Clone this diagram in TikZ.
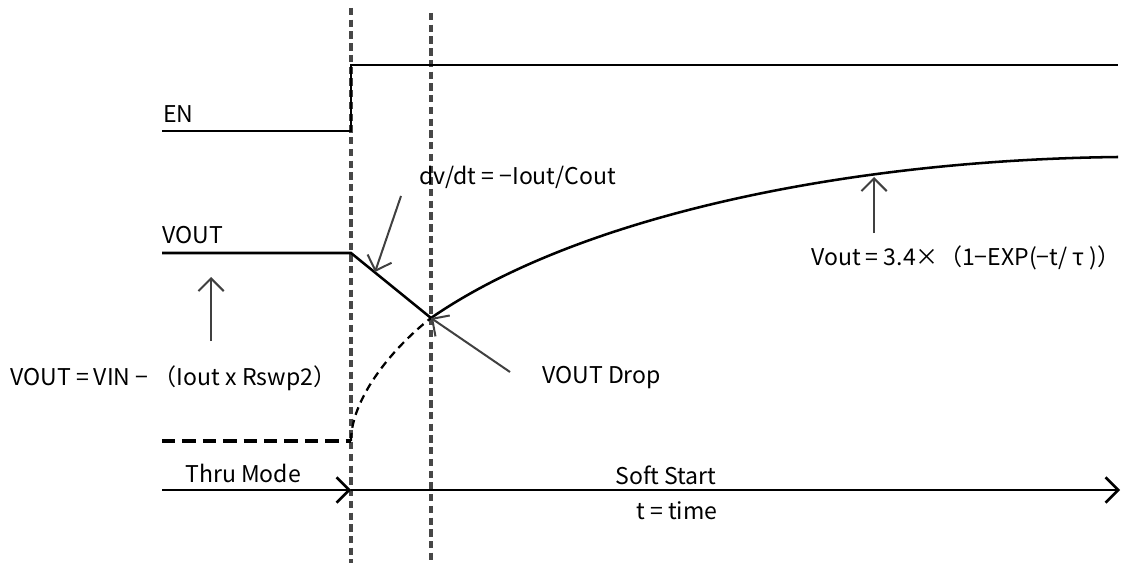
\documentclass[tikz,border=0pt]{standalone}
\usepackage{fontspec}
\setmainfont{Noto Sans CJK JP}
\usetikzlibrary{arrows.meta}

\begin{document}
\begin{tikzpicture}[x=0.75pt,y=-0.75pt,
  sig/.style={line width=1.9pt},
  mark line/.style={draw=black!72,line width=2.4pt,dash pattern=on 5.5pt off 3.3pt},
  callout/.style={draw=black!75,line width=1.5pt,-{Straight Barb[length=9.5pt,width=19pt]}},
  lbl/.style={anchor=base west,inner sep=0pt,font=\fontsize{17.3}{20}\selectfont}]
\useasboundingbox (0,0) rectangle (1131,563);
% phase boundaries
\coordinate (start) at (351,490);
\coordinate (cross) at (431,318);
\draw[mark line] (351,8)--(351,563);
\draw[mark line] (431,13)--(431,563);
% EN
\draw[sig] (162,131)--(351,131)--(351,65)--(1118,65);
\node[lbl] (en) at (163,123) {EN};
% VOUT
\draw[sig] (162,253)--(351,253)--(cross);
\node[lbl] (vout) at (162,243) {VOUT};
\draw[line width=2.6pt,dash pattern=on 10pt off 5.3pt] (162,441)--(351,441);
\draw[line width=1.7pt,dash pattern=on 6pt off 4pt] (351,441) .. controls (351,400) and (390,350) .. (cross);
\draw[sig] (cross) .. controls (580,215) and (850,160) .. (1118,157);
% labels
\node[lbl] (slope) at (419,185) {dv/dt = −Iout/Cout};
\node[lbl] (thru) at (10,385) {VOUT = VIN − （Iout x Rswp2）};
\node[lbl] (drop) at (542,383) {VOUT Drop};
\node[lbl] (soft) at (811,265) {Vout = 3.4×（1−EXP(−t/ τ )）};
\draw[callout] (401,196)--(375,272);
\draw[callout] (211,341)--(211,277);
\draw[callout] (510,372)--(cross);
\draw[callout] (874,233)--(874,177);
% time axis
\draw[sig,-{Straight Barb[length=9.5pt,width=19pt]}] (162,490)--(start);
\draw[sig,-{Straight Barb[length=9.5pt,width=19pt]}] (start)--(1120,490);
\node[lbl] (mode1) at (185,482) {Thru Mode};
\node[lbl] (mode2) at (615,484) {Soft Start};
\node[lbl] (tlbl) at (636,519) {t = time};
\end{tikzpicture}
\end{document}
